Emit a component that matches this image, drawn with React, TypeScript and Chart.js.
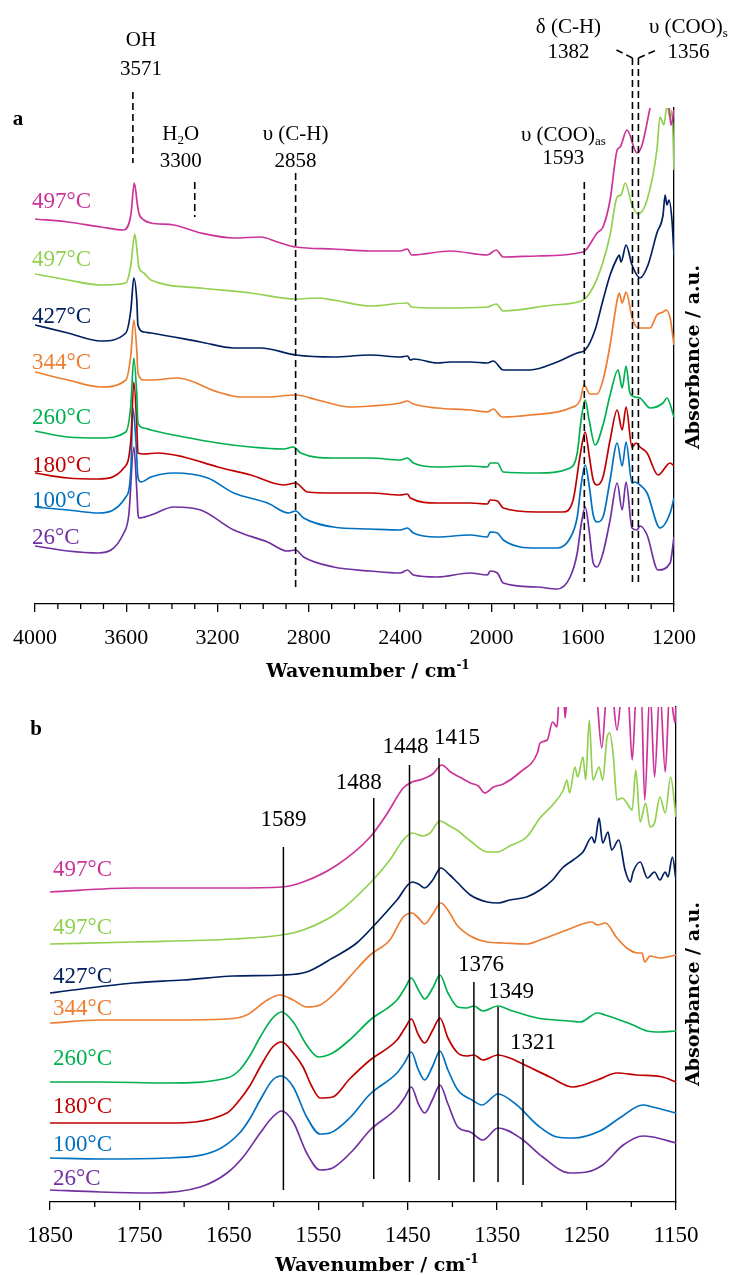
import React, { useEffect, useRef } from "react";
import { Chart, registerables } from "chart.js";

Chart.register(...registerables);

type Pt = [number, number];

// Series labels and colours (top to bottom)
const temperatures = ["497°C", "497°C", "427°C", "344°C", "260°C", "180°C", "100°C", "26°C"];
const seriesColors = ["#CC3399", "#92D050", "#002060", "#ED7D31", "#00B050", "#C00000", "#0070C0", "#7030A0"];

// ---------- (a) 4000–1200 cm-1 : [wavenumber, absorbance (offset)] ----------
const a497m: Pt[] = [[4000,3.85],[3856,3.82],[3711,3.77],[3611,3.74],[3580,3.89],[3565,4.21],[3551,3.99],[3545,3.91],[3523,3.84],[3492,3.81],[3392,3.79],[3274,3.71],[3129,3.66],[3011,3.67],[2937,3.62],[2858,3.57],[2692,3.55],[2530,3.53],[2400,3.53],[2368,3.55],[2350,3.49],[2180,3.53],[2018,3.49],[1979,3.54],[1948,3.47],[1799,3.48],[1598,3.52],[1537,3.71],[1511,3.77],[1480,4.04],[1449,4.54],[1436,4.57],[1406,4.74],[1362,4.51],[1340,4.59],[1305,4.96],[1283,5.19],[1239,5.19],[1226,5.09],[1213,4.79],[1200,4.94]];
const a497g: Pt[] = [[4000,3.30],[3856,3.24],[3711,3.19],[3602,3.21],[3580,3.39],[3563,3.70],[3551,3.49],[3545,3.37],[3523,3.31],[3492,3.24],[3274,3.16],[3055,3.11],[2858,3.05],[2762,3.06],[2692,3.04],[2530,2.98],[2368,3.01],[2350,2.97],[2237,2.96],[2018,2.97],[1979,3.00],[1948,2.93],[1729,2.99],[1598,3.04],[1554,3.17],[1511,3.42],[1480,3.69],[1449,4.07],[1432,4.09],[1414,4.21],[1384,3.99],[1358,3.90],[1318,4.04],[1275,4.54],[1261,4.87],[1244,4.79],[1231,4.99],[1217,4.86],[1209,4.94],[1200,4.34]];
const a427: Pt[] = [[4000,2.79],[3856,2.71],[3711,2.63],[3602,2.71],[3580,2.94],[3567,3.26],[3554,3.04],[3549,2.79],[3523,2.72],[3492,2.71],[3274,2.62],[3129,2.56],[3011,2.56],[2858,2.49],[2692,2.47],[2530,2.49],[2399,2.47],[2368,2.48],[2355,2.44],[2340,2.45],[2237,2.41],[2180,2.42],[2093,2.42],[2018,2.41],[1992,2.43],[1948,2.34],[1830,2.34],[1712,2.42],[1624,2.51],[1589,2.54],[1546,2.74],[1511,3.04],[1480,3.29],[1449,3.46],[1440,3.49],[1432,3.42],[1410,3.59],[1384,3.39],[1349,3.26],[1314,3.39],[1275,3.71],[1248,3.89],[1239,4.09],[1231,3.99],[1222,4.04],[1209,3.84],[1200,3.49]];
const a344: Pt[] = [[4000,2.32],[3856,2.24],[3711,2.17],[3602,2.24],[3580,2.49],[3567,2.84],[3554,2.54],[3549,2.31],[3523,2.24],[3492,2.24],[3374,2.26],[3199,2.12],[3099,2.07],[2981,2.07],[2858,2.09],[2762,2.04],[2618,1.97],[2530,1.98],[2399,2.01],[2368,2.03],[2342,2.00],[2237,1.96],[2093,1.94],[2018,1.92],[1992,1.95],[1953,1.87],[1830,1.89],[1655,1.96],[1611,2.04],[1594,2.19],[1568,2.10],[1537,2.10],[1511,2.24],[1480,2.59],[1449,3.04],[1440,3.11],[1427,3.01],[1410,3.12],[1384,2.87],[1358,2.76],[1305,2.76],[1275,2.89],[1248,2.92],[1235,2.94],[1217,2.86],[1200,2.59]];
const a260: Pt[] = [[4000,1.73],[3856,1.67],[3711,1.66],[3602,1.72],[3580,1.99],[3567,2.46],[3554,2.09],[3549,1.81],[3523,1.76],[3492,1.74],[3348,1.67],[3199,1.61],[3055,1.57],[2911,1.55],[2867,1.57],[2836,1.51],[2692,1.46],[2530,1.46],[2399,1.44],[2368,1.46],[2342,1.41],[2237,1.37],[2093,1.38],[2018,1.37],[2005,1.41],[1974,1.41],[1948,1.32],[1799,1.31],[1655,1.36],[1624,1.51],[1607,1.84],[1589,2.04],[1572,1.84],[1546,1.59],[1511,1.79],[1480,2.09],[1445,2.34],[1427,2.16],[1410,2.38],[1393,2.11],[1371,2.07],[1349,2.06],[1305,1.96],[1248,2.01],[1231,2.06],[1200,1.87]];
const a180: Pt[] = [[4000,1.31],[3856,1.26],[3724,1.25],[3611,1.36],[3580,1.64],[3567,2.22],[3554,1.79],[3549,1.51],[3523,1.50],[3462,1.51],[3348,1.47],[3199,1.37],[3055,1.29],[2911,1.19],[2858,1.21],[2806,1.12],[2692,1.11],[2530,1.11],[2399,1.09],[2368,1.10],[2355,1.06],[2237,1.01],[2093,1.01],[2018,1.00],[2005,1.04],[1974,1.03],[1948,0.96],[1799,0.92],[1686,0.92],[1642,1.04],[1611,1.49],[1589,1.72],[1572,1.49],[1554,1.24],[1537,1.19],[1511,1.27],[1480,1.64],[1449,1.94],[1427,1.74],[1410,1.97],[1384,1.57],[1366,1.61],[1349,1.57],[1318,1.51],[1270,1.29],[1217,1.41],[1200,1.38]];
const a100: Pt[] = [[4000,0.97],[3856,0.94],[3720,0.91],[3602,1.07],[3580,1.34],[3571,1.96],[3558,1.64],[3549,1.27],[3536,1.22],[3492,1.27],[3392,1.31],[3243,1.26],[3129,1.11],[2981,1.01],[2889,0.91],[2858,0.93],[2823,0.86],[2692,0.77],[2530,0.75],[2399,0.74],[2368,0.76],[2342,0.71],[2237,0.67],[2093,0.69],[2018,0.67],[2005,0.72],[1974,0.71],[1948,0.64],[1799,0.56],[1712,0.56],[1655,0.66],[1624,0.87],[1607,1.19],[1589,1.39],[1572,1.19],[1554,0.89],[1537,0.82],[1511,0.87],[1480,1.24],[1449,1.61],[1427,1.38],[1410,1.62],[1384,1.21],[1371,1.22],[1349,1.19],[1318,1.11],[1261,0.76],[1217,0.91],[1200,1.06]];
const a26: Pt[] = [[4000,0.58],[3856,0.53],[3720,0.51],[3611,0.71],[3589,0.89],[3567,1.57],[3554,1.14],[3549,0.91],[3545,0.86],[3492,0.89],[3392,0.97],[3274,0.94],[3129,0.74],[2981,0.62],[2893,0.53],[2858,0.54],[2823,0.47],[2692,0.37],[2530,0.33],[2399,0.31],[2368,0.34],[2342,0.29],[2237,0.27],[2093,0.31],[2018,0.29],[2005,0.33],[1974,0.31],[1948,0.21],[1799,0.17],[1712,0.15],[1655,0.27],[1624,0.51],[1607,0.79],[1589,0.97],[1572,0.74],[1554,0.41],[1537,0.37],[1511,0.51],[1480,0.84],[1449,1.21],[1427,0.94],[1410,1.22],[1384,0.76],[1362,0.74],[1349,0.78],[1318,0.69],[1270,0.34],[1217,0.41],[1200,0.67]];

// ---------- (b) 1850–1150 cm-1 ----------
const b497m: Pt[] = [[1850,3.10],[1757,3.14],[1645,3.14],[1591,3.15],[1567,3.20],[1529,3.37],[1492,3.65],[1474,3.87],[1455,4.14],[1445,4.20],[1433,4.23],[1422,4.28],[1412,4.37],[1402,4.30],[1392,4.25],[1380,4.19],[1371,4.16],[1364,4.09],[1354,4.15],[1343,4.18],[1324,4.30],[1305,4.49],[1302,4.59],[1294,4.62],[1288,4.80],[1283,4.75],[1281,5.02],[1276,5.12],[1274,4.84],[1271,5.12],[1252,5.12],[1240,5.12],[1233,4.54],[1227,5.12],[1222,5.12],[1216,4.72],[1210,5.12],[1204,5.12],[1199,4.42],[1194,5.12],[1189,5.12],[1185,4.02],[1179,5.12],[1174,4.25],[1168,5.12],[1162,4.30],[1157,5.12],[1151,4.79],[1150,5.02]];
const b497g: Pt[] = [[1850,2.58],[1757,2.60],[1645,2.63],[1591,2.67],[1567,2.72],[1529,2.89],[1492,3.19],[1470,3.42],[1455,3.62],[1445,3.69],[1433,3.66],[1425,3.69],[1414,3.81],[1403,3.76],[1395,3.72],[1380,3.61],[1361,3.50],[1350,3.50],[1336,3.56],[1317,3.65],[1302,3.84],[1288,3.97],[1276,4.12],[1272,4.22],[1269,4.09],[1263,4.35],[1260,4.25],[1254,4.45],[1251,4.22],[1247,4.82],[1243,4.22],[1236,4.35],[1232,4.22],[1227,4.65],[1224,4.69],[1220,4.45],[1216,4.02],[1210,4.04],[1205,3.99],[1199,3.92],[1195,4.32],[1190,3.80],[1184,3.99],[1179,3.75],[1174,3.79],[1168,4.05],[1162,3.89],[1156,4.25],[1150,3.85]];
const b427: Pt[] = [[1850,2.09],[1757,2.19],[1701,2.22],[1645,2.26],[1591,2.27],[1563,2.30],[1534,2.44],[1507,2.59],[1484,2.80],[1462,3.02],[1445,3.20],[1438,3.18],[1431,3.14],[1422,3.22],[1413,3.34],[1403,3.27],[1395,3.20],[1380,3.07],[1361,3.00],[1349,2.99],[1336,3.02],[1317,3.05],[1302,3.12],[1288,3.22],[1277,3.34],[1265,3.42],[1254,3.50],[1244,3.65],[1241,3.59],[1236,3.84],[1232,3.59],[1226,3.70],[1222,3.52],[1214,3.62],[1207,3.32],[1201,3.20],[1198,3.30],[1190,3.40],[1182,3.24],[1174,3.30],[1168,3.22],[1162,3.30],[1159,3.25],[1154,3.45],[1150,3.22]];
const b344: Pt[] = [[1850,1.79],[1794,1.82],[1719,1.82],[1652,1.83],[1630,1.87],[1607,2.02],[1593,2.07],[1578,2.02],[1563,1.95],[1548,1.97],[1529,2.11],[1511,2.29],[1492,2.47],[1470,2.62],[1455,2.85],[1445,2.89],[1438,2.84],[1431,2.78],[1422,2.88],[1413,2.99],[1403,2.89],[1395,2.77],[1380,2.66],[1361,2.60],[1343,2.59],[1317,2.58],[1302,2.62],[1272,2.72],[1244,2.80],[1238,2.77],[1229,2.79],[1216,2.64],[1205,2.54],[1193,2.49],[1188,2.49],[1185,2.40],[1179,2.46],[1168,2.44],[1150,2.47]];
const b260: Pt[] = [[1850,1.20],[1794,1.20],[1719,1.19],[1652,1.24],[1638,1.32],[1626,1.47],[1615,1.65],[1601,1.84],[1591,1.90],[1578,1.80],[1563,1.57],[1550,1.45],[1534,1.49],[1515,1.62],[1492,1.82],[1462,2.02],[1453,2.14],[1446,2.24],[1438,2.12],[1431,2.03],[1422,2.14],[1414,2.27],[1405,2.09],[1394,1.95],[1384,1.94],[1376,1.96],[1366,1.91],[1349,1.96],[1336,1.92],[1305,1.84],[1269,1.81],[1257,1.80],[1238,1.89],[1229,1.87],[1213,1.82],[1198,1.77],[1182,1.71],[1168,1.70],[1150,1.71]];
const b180: Pt[] = [[1850,0.79],[1794,0.79],[1719,0.79],[1652,0.89],[1638,1.02],[1626,1.17],[1615,1.35],[1601,1.55],[1591,1.60],[1578,1.49],[1567,1.35],[1558,1.17],[1548,1.04],[1534,1.05],[1515,1.23],[1492,1.42],[1462,1.62],[1453,1.74],[1446,1.83],[1438,1.67],[1431,1.59],[1422,1.72],[1414,1.84],[1405,1.64],[1394,1.49],[1384,1.46],[1376,1.47],[1366,1.42],[1349,1.47],[1336,1.44],[1319,1.37],[1291,1.25],[1265,1.15],[1238,1.22],[1216,1.29],[1194,1.27],[1165,1.25],[1150,1.20]];
const b100: Pt[] = [[1850,0.44],[1794,0.43],[1719,0.44],[1663,0.52],[1638,0.69],[1626,0.84],[1615,1.02],[1601,1.22],[1591,1.26],[1578,1.15],[1563,0.85],[1548,0.68],[1537,0.69],[1515,0.84],[1492,1.08],[1462,1.29],[1453,1.40],[1446,1.50],[1438,1.32],[1431,1.22],[1422,1.36],[1414,1.51],[1405,1.32],[1394,1.12],[1378,1.02],[1367,0.97],[1349,1.08],[1328,0.97],[1305,0.77],[1283,0.65],[1265,0.64],[1235,0.71],[1213,0.84],[1187,0.97],[1176,0.95],[1150,0.89]];
const b26: Pt[] = [[1850,0.12],[1794,0.10],[1738,0.09],[1682,0.15],[1652,0.29],[1634,0.45],[1615,0.69],[1601,0.85],[1591,0.91],[1578,0.80],[1563,0.49],[1548,0.32],[1534,0.34],[1511,0.52],[1492,0.72],[1462,0.94],[1453,1.05],[1446,1.15],[1438,0.98],[1431,0.89],[1422,1.03],[1414,1.17],[1405,0.98],[1394,0.75],[1380,0.70],[1366,0.62],[1349,0.74],[1324,0.64],[1299,0.45],[1269,0.29],[1250,0.30],[1232,0.37],[1209,0.57],[1187,0.66],[1176,0.65],[1150,0.59]];

// Band assignments
const bandsA = [3571, 3300, 2858, 1593, 1382, 1356];
const bandNamesA = ["OH", "H_{2}O", "υ (C-H)", "υ (COO)_{as}", "δ (C-H)", "υ (COO)_{s}"];
const bandsB = [1589, 1488, 1448, 1415, 1376, 1349, 1321];

// Axis ranges / ticks
const rangeA = { min: 1200, max: 4000, major: 400, minor: 100, yMax: 4.96 };
const rangeB = { min: 1150, max: 1850, major: 100, minor: 50, yMax: 4.95 };
const xTitle = "Wavenumber / cm^{-1}";
const yTitle = "Absorbance / a.u.";

// ---------- layout (canvas pixels) ----------
const W = 739;
const layoutA = {
  height: 690, padL: 34, padR: 65, padT: 108, axisH: 86, tickFont: 22, tickPad: 13,
  panel: { text: "a", x: 18, y: 120 },
  tempX: 32, tempY: [202, 260, 317, 363, 418, 466, 501, 538],
  xTitle: { x: 368, y: 672 }, yTitle: { x: 694, y: 357 },
  bands: [
    { dx: 8, rows: [40, 69], y0: 92, y1: 163, elbow: 0 },
    { dx: -14, rows: [134, 161], y0: 182, y1: 217, elbow: 0 },
    { dx: 0, rows: [134, 161], y0: 173, y1: 590, elbow: 0 },
    { dx: -21, rows: [135, 158], y0: 182, y1: 582, elbow: 0 },
    { dx: -64, rows: [27, 52], y0: 58, y1: 585, elbow: -16 },
    { dx: 50, rows: [27, 52], y0: 58, y1: 585, elbow: 18 },
  ],
};
const layoutB = {
  height: 585, padL: 50, padR: 63, padT: 17, axisH: 73, tickFont: 23, tickPad: 12,
  panel: { text: "b", x: 36, y: 40 },
  tempX: 53, tempY: [180, 238, 287, 319, 369, 417, 455, 489],
  xTitle: { x: 377, y: 576 }, yTitle: { x: 694, y: 304 },
  bands: [
    { dx: 0, row: 130, y0: 157, y1: 500 },
    { dx: -15, row: 93, y0: 108, y1: 489 },
    { dx: -4, row: 57, y0: 75, y1: 492 },
    { dx: 18, row: 48, y0: 68, y1: 490 },
    { dx: 7, row: 275, y0: 292, y1: 492 },
    { dx: 13, row: 302, y0: 317, y1: 492 },
    { dx: 10, row: 353, y0: 369, y1: 495 },
  ],
};

const SERIF = '"Liberation Serif", serif';
const TITLE = '"DejaVu Serif", serif';

// Text with _{sub} and ^{sup} parts, centred on (cx, cy)
type Seg = { t: string; k: number };
function parseRich(s: string): Seg[] {
  const out: Seg[] = [];
  const re = /([_^])\{([^}]*)\}/g;
  let last = 0;
  let m: RegExpExecArray | null;
  while ((m = re.exec(s))) {
    if (m.index > last) out.push({ t: s.slice(last, m.index), k: 0 });
    out.push({ t: m[2], k: m[1] === "_" ? 1 : 2 });
    last = re.lastIndex;
  }
  if (last < s.length) out.push({ t: s.slice(last), k: 0 });
  return out;
}
function drawRich(ctx: CanvasRenderingContext2D, s: string, cx: number, cy: number, size: number, family: string, weight = "") {
  const segs = parseRich(s);
  const font = (k: number) => `${weight} ${k ? Math.round(size * 0.62) : size}px ${family}`;
  let w = 0;
  segs.forEach((g) => { ctx.font = font(g.k); w += ctx.measureText(g.t).width; });
  let x = cx - w / 2;
  ctx.textAlign = "left";
  ctx.textBaseline = "middle";
  segs.forEach((g) => {
    ctx.font = font(g.k);
    const dy = g.k === 1 ? size * 0.3 : g.k === 2 ? -size * 0.3 : 0;
    ctx.fillText(g.t, x, cy + dy);
    x += ctx.measureText(g.t).width;
  });
}

function seg(ctx: CanvasRenderingContext2D, x0: number, y0: number, x1: number, y1: number) {
  ctx.beginPath();
  ctx.moveTo(x0, y0);
  ctx.lineTo(x1, y1);
  ctx.stroke();
}

function drawCommon(chart: Chart, L: any, range: any) {
  const { ctx, chartArea } = chart;
  const xs = chart.scales.x;
  ctx.save();
  // minor ticks
  ctx.strokeStyle = "#000";
  ctx.lineWidth = 1.3;
  for (let w = range.min + range.minor; w < range.max; w += range.minor) {
    if ((w - range.min) % range.major === 0) continue;
    const px = xs.getPixelForValue(w);
    seg(ctx, px, chartArea.bottom, px, chartArea.bottom + 5);
  }
  // temperature labels
  ctx.textAlign = "left";
  ctx.textBaseline = "middle";
  ctx.font = `23px ${SERIF}`;
  temperatures.forEach((t, i) => {
    ctx.fillStyle = seriesColors[i];
    ctx.fillText(t, L.tempX, L.tempY[i]);
  });
  ctx.fillStyle = "#000";
  // panel letter
  ctx.font = `bold 21px ${SERIF}`;
  ctx.textAlign = "center";
  ctx.fillText(L.panel.text, L.panel.x, L.panel.y);
  // axis titles
  drawRich(ctx, xTitle, L.xTitle.x, L.xTitle.y, 19, TITLE, "bold");
  ctx.save();
  ctx.translate(L.yTitle.x, L.yTitle.y);
  ctx.rotate(-Math.PI / 2);
  drawRich(ctx, yTitle, 0, 0, 19, TITLE, "bold");
  ctx.restore();
  ctx.restore();
}

function decorateA(chart: Chart) {
  const { ctx } = chart;
  const xs = chart.scales.x;
  drawCommon(chart, layoutA, rangeA);
  ctx.save();
  ctx.strokeStyle = "#000";
  ctx.fillStyle = "#000";
  ctx.lineWidth = 1.6;
  ctx.setLineDash([7, 4]);
  bandsA.forEach((w, i) => {
    const b = layoutA.bands[i];
    const px = xs.getPixelForValue(w);
    seg(ctx, px, b.y0, px, b.y1);
    if (b.elbow) seg(ctx, px, b.y0, px + b.elbow, b.y0 - 8);
  });
  ctx.setLineDash([]);
  bandsA.forEach((w, i) => {
    const b = layoutA.bands[i];
    const px = xs.getPixelForValue(w) + b.dx;
    drawRich(ctx, bandNamesA[i], px, b.rows[0], 21, SERIF);
    drawRich(ctx, String(w), px, b.rows[1], 21, SERIF);
  });
  ctx.restore();
}

function decorateB(chart: Chart) {
  const { ctx } = chart;
  const xs = chart.scales.x;
  drawCommon(chart, layoutB, rangeB);
  ctx.save();
  ctx.strokeStyle = "#000";
  ctx.fillStyle = "#000";
  ctx.lineWidth = 1.5;
  bandsB.forEach((w, i) => {
    const b = layoutB.bands[i];
    const px = xs.getPixelForValue(w);
    seg(ctx, px, b.y0, px, b.y1);
    drawRich(ctx, String(w), px + b.dx, b.row, 23, SERIF);
  });
  ctx.restore();
}

function buildChart(canvas: HTMLCanvasElement, series: Pt[][], L: any, range: any, decorate: (c: Chart) => void) {
  return new Chart(canvas, {
    type: "line",
    data: {
      datasets: series.map((s, i) => ({
        label: temperatures[i],
        data: s.map(([x, y]) => ({ x, y })),
        borderColor: seriesColors[i],
        backgroundColor: seriesColors[i],
        borderWidth: 1.7,
        pointRadius: 0,
        fill: false,
        cubicInterpolationMode: "monotone" as const,
      })),
    },
    options: {
      animation: false,
      responsive: false,
      devicePixelRatio: 1,
      events: [],
      layout: { padding: { left: L.padL, right: L.padR, top: L.padT, bottom: 0 } },
      plugins: { legend: { display: false }, tooltip: { enabled: false }, title: { display: false } },
      scales: {
        x: {
          type: "linear",
          reverse: true,
          min: range.min,
          max: range.max,
          ticks: {
            stepSize: range.major,
            autoSkip: false,
            maxRotation: 0,
            color: "#000",
            padding: L.tickPad,
            font: { family: SERIF, size: L.tickFont },
            callback: (v: any) => String(v),
          },
          grid: { display: true, drawOnChartArea: false, drawTicks: true, tickLength: 8, color: "#000", tickColor: "#000", tickWidth: 1.3, lineWidth: 1.3 },
          border: { display: true, color: "#000", width: 1.3 },
          afterFit: (s: any) => { s.height = L.axisH; },
        },
        y: {
          type: "linear",
          position: "right",
          min: 0,
          max: range.yMax,
          ticks: { display: false },
          grid: { display: false },
          border: { display: true, color: "#000", width: 1.3 },
          afterFit: (s: any) => { s.width = 0; },
        },
      },
    } as any,
    plugins: [{ id: "decor", afterDraw: decorate }],
  });
}

function Panel({ top, series, L, range, decorate }: { top: number; series: Pt[][]; L: any; range: any; decorate: (c: Chart) => void }) {
  const ref = useRef<HTMLCanvasElement>(null);
  useEffect(() => {
    const chart = buildChart(ref.current!, series, L, range, decorate);
    return () => chart.destroy();
  }, []);
  return (
    <canvas
      ref={ref}
      width={W}
      height={L.height}
      style={{ position: "absolute", left: 0, top, width: W, height: L.height }}
    />
  );
}

export default function App() {
  return (
    <div style={{ position: "absolute", left: 0, top: 0, width: W, height: 1275, background: "#fff", overflow: "hidden" }}>
      <Panel top={0} series={[a497m, a497g, a427, a344, a260, a180, a100, a26]} L={layoutA} range={rangeA} decorate={decorateA} />
      <Panel top={690} series={[b497m, b497g, b427, b344, b260, b180, b100, b26]} L={layoutB} range={rangeB} decorate={decorateB} />
    </div>
  );
}
